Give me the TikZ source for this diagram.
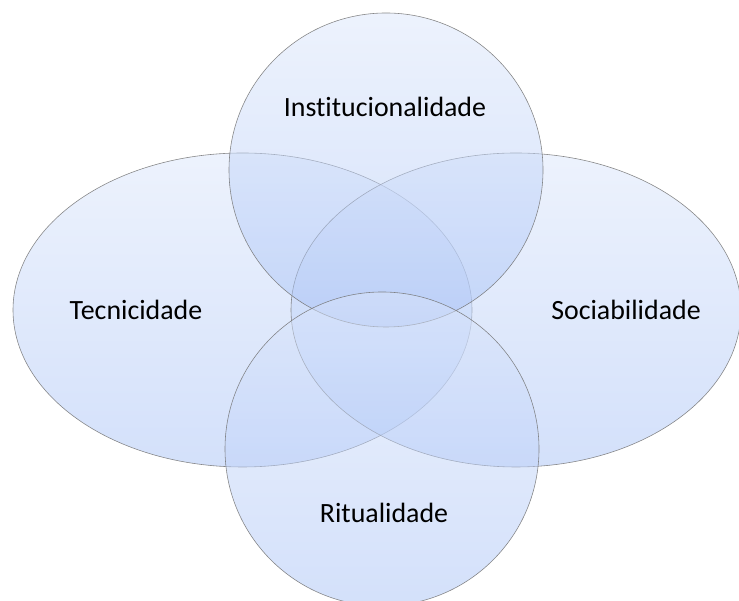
\documentclass[tikz,border=0pt]{standalone}
\usepackage{fontspec}
\setmainfont{Carlito}[Ligatures=NoCommon]
\definecolor{petaltop}{RGB}{219,230,251}
\definecolor{petalbottom}{RGB}{168,194,246}
\begin{document}
\begin{tikzpicture}[x=0.03cm,y=0.03cm,
        petal/.style={draw=gray!90!black,draw opacity=0.85,line width=0.5pt,top color=petaltop,bottom color=petalbottom,fill opacity=0.5},
        lbl/.style={font=\fontsize{23.8}{28}\selectfont,text=black}]
    \useasboundingbox (0,0) rectangle (739,601);
    \clip (0,0) rectangle (739,601);
    \path[petal] (242.5,291) ellipse [x radius=229.5, y radius=157]; %tecnicidade
    \path[petal] (516,291) ellipse [x radius=225, y radius=157]; %sociabilidade
    \path[petal] (386,431) circle [radius=157]; %institucionalidade
    \path[petal] (382,152) circle [radius=157]; %ritualidade

    \node[lbl] (inst) at (385,494) {Institucionalidade};
    \node[lbl] (tec) at (136,291) {Tecnicidade};
    \node[lbl] (soc) at (626,291) {Sociabilidade};
    \node[lbl] (rit) at (384,88) {Ritualidade};
\end{tikzpicture}
\end{document}
